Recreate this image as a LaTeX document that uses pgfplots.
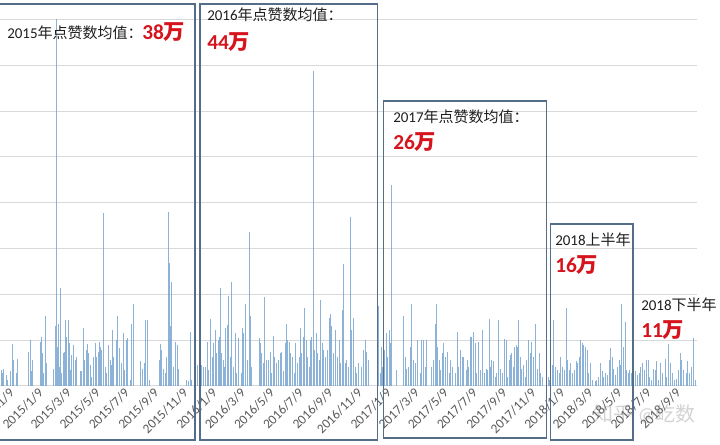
\documentclass[border=0pt]{standalone}
\usepackage{pgfplots}
\pgfplotsset{compat=1.18}
\usepackage{fontspec}
\setmainfont{Carlito}
\newfontfamily\cjk{Noto Sans CJK SC}
\definecolor{barblue}{RGB}{120,164,208}
\definecolor{gridgray}{RGB}{217,217,217}
\definecolor{boxblue}{RGB}{84,110,138}
\definecolor{numred}{RGB}{214,20,30}
\definecolor{txt}{RGB}{30,30,30}
\definecolor{ticktxt}{RGB}{89,89,89}
\begin{document}
\begin{tikzpicture}
\begin{axis}[
  at={(0pt,44.25pt)}, anchor=south west,
  scale only axis, width=522.75pt, height=289.5pt,
  xmin=-23, xmax=1441, ymin=0, ymax=421.4,
  axis x line=bottom, axis y line=left,
  axis line style={-},
  x axis line style={draw=gridgray, line width=0.75pt},
  y axis line style={draw=none},
  ytick={50,100,...,400}, yticklabels={},
  ymajorgrids, grid style={draw=gridgray, line width=0.75pt},
  major tick length=0pt,
  xtick={0,61,120,181,242,304,365,426,486,547,608,670,731,792,851,912,973,1035,1096,1157,1216,1277,1338,1400},
  xticklabels={2014/11/9,2015/1/9,2015/3/9,2015/5/9,2015/7/9,2015/9/9,2015/11/9,2016/1/9,2016/3/9,2016/5/9,2016/7/9,2016/9/9,2016/11/9,2017/1/9,2017/3/9,2017/5/9,2017/7/9,2017/9/9,2017/11/9,2018/1/9,2018/3/9,2018/5/9,2018/7/9,2018/9/9},
  xticklabel style={rotate=45, anchor=east, font=\fontsize{10}{12}\selectfont, text=ticktxt, inner sep=2pt, yshift=-3pt},
  clip=false,
]
\addplot[ycomb, line width=0.6pt, color=barblue, opacity=0.85] coordinates {
(-21,17)(-17,14)(-15,19)(-10,12)(-8,7)(-2,16)(2,21)(4,46)(6,28)(11,14)(13,29)
(37,37)(40,50)(42,16)(45,28)
(61,48)(64,54)(67,36)(69,14)(73,76)(75,25)
(89,19)(93,65)(95,401)(97,43)(100,68)(102,21)(104,107)(107,14)(110,36)(113,37)(115,72)(117,54)(121,72)(123,47)(125,17)(128,34)(131,45)(135,28)(138,32)
(145,16)(149,16)(152,63)(155,28)(158,39)(160,46)(163,36)(166,23)(170,10)(174,32)(177,47)(180,32)(183,37)(186,48)(188,43)(191,39)(194,189)(198,21)(201,14)(205,45)(208,28)(212,23)(214,61)(216,32)(221,50)(224,76)(227,41)
(233,25)(236,58)(239,17)(242,50)(244,52)(250,7)(254,68)(257,90)
(272,27)(277,19)(280,25)(283,72)(286,72)(291,7)
(312,28)(314,46)(317,39)(320,19)(324,14)(327,32)(331,190)(333,134)(334,65)(336,32)(338,114)(341,21)(345,48)(349,45)(352,19)
(369,7)(373,5)(376,59)(380,7)
(391,23)(396,14)(401,23)(404,21)(408,21)(412,48)(415,17)(419,73)(423,32)(426,47)(429,61)(432,36)(435,50)(438,54)(440,107)(443,36)(446,28)(448,21)(451,63)(454,67)(457,98)(460,32)(464,114)(467,21)(471,58)(474,14)(478,52)
(483,14)(487,63)(489,58)(493,90)(496,28)(500,168)(502,76)(506,21)
(522,52)(524,47)(527,36)(530,25)(533,97)(536,28)(541,28)(544,37)(548,14)(551,55)(554,32)(557,25)(561,28)(565,36)(569,37)(572,16)(576,47)(578,68)(581,50)(584,48)(587,36)(592,32)(595,14)(598,47)(601,25)(605,32)(608,63)(611,36)(614,54)(616,85)(620,50)(622,32)(626,21)(629,50)(632,54)(635,344)(638,39)(641,58)(644,36)(648,28)(651,94)(654,47)(657,39)(661,32)(664,39)(669,74)(671,79)(674,65)(678,36)(682,61)(685,32)(689,50)(692,25)(696,83)(698,133)(702,25)(705,28)(709,21)(713,184)(716,61)(719,74)(723,21)(726,14)(730,25)
(737,21)(740,39)(744,50)(747,37)(751,28)
(772,87)(775,14)(779,43)(781,21)(784,39)(788,58)(791,32)(795,61)(797,47)(800,219)(810,17)
(824,76)(828,32)(831,19)(835,21)(838,43)(842,90)(845,28)(849,25)(853,50)(859,14)(863,50)(866,50)(870,21)(873,50)
(884,21)(887,28)(891,68)(893,90)(895,43)(900,28)(903,17)(907,36)(909,47)(912,32)(916,37)(920,14)(923,28)(928,21)(933,14)(937,59)(940,21)(944,39)(949,32)(951,32)(956,17)(958,28)(961,21)(964,54)(967,54)(971,59)(975,47)(978,14)(982,48)
(987,17)(991,61)(994,14)(998,19)(1000,17)(1004,73)(1007,21)(1010,28)(1013,27)(1017,10)(1020,14)(1024,72)(1028,19)(1032,14)(1036,51)(1040,50)(1043,10)(1047,28)(1049,34)(1052,36)(1055,21)(1058,43)(1061,45)(1063,43)(1066,72)(1069,32)(1073,19)(1076,23)(1080,10)(1083,28)(1087,50)(1090,36)(1094,48)(1097,32)(1101,68)(1105,19)(1110,36)(1113,14)(1117,10)
(1124,7)(1129,10)(1132,7)(1138,23)(1140,72)(1144,21)(1147,17)(1152,14)(1155,32)(1159,21)(1162,17)(1166,85)(1169,28)(1173,17)(1175,25)(1180,14)(1183,17)(1187,27)(1190,25)(1194,32)(1197,50)(1200,47)(1203,45)(1207,43)(1210,39)(1213,14)(1217,25)(1222,7)(1227,5)(1230,7)(1234,10)
(1239,25)(1243,16)(1245,10)(1249,14)(1252,12)(1256,28)(1259,41)(1263,32)(1266,19)(1270,12)(1273,21)(1277,28)(1280,23)(1283,90)(1286,43)(1290,70)(1293,17)(1297,14)(1300,17)(1304,14)
(1308,8)(1312,16)(1315,12)(1319,14)(1322,21)(1326,25)(1330,17)(1335,28)(1339,28)(1342,10)(1346,7)(1349,19)(1353,17)(1356,27)(1360,7)(1364,25)(1369,14)(1374,30)(1377,10)(1381,46)(1385,25)(1390,14)(1394,7)(1398,8)(1402,17)(1406,36)(1409,28)(1413,17)(1418,14)(1421,27)(1426,14)(1430,21)(1433,52)(1437,7)
};
\end{axis}
\begin{scope}[x=0.75pt, y=-0.75pt, shift={(0pt,333.75pt)}]
  \draw[boxblue, line width=1.1pt] (-5,4) rectangle (195,440);
  \draw[boxblue, line width=1.1pt] (200,4) rectangle (377.6,440);
  \draw[boxblue, line width=1.1pt] (383.6,101) rectangle (546.7,438);
  \draw[boxblue, line width=1.1pt] (550.7,224) rectangle (633,440);
  \tikzset{lab/.style={anchor=west, inner sep=0pt, text=txt, font=\fontsize{11.25}{13}\selectfont},
           num/.style={anchor=west, inner sep=0pt, text=numred, font=\fontsize{16}{18}\selectfont\bfseries}}
  \node[lab] at (7,33) {2015{\cjk 年点赞数均值：}};
  \node[num] at (142,32) {38{\cjk\bfseries 万}};
  \node[lab] at (207,15) {2016{\cjk 年点赞数均值：}};
  \node[num] at (207,42) {44{\cjk\bfseries 万}};
  \node[lab] at (393,117) {2017{\cjk 年点赞数均值：}};
  \node[num] at (393,142) {26{\cjk\bfseries 万}};
  \node[lab] at (555,240) {2018{\cjk 上半年}};
  \node[num] at (555,265) {16{\cjk\bfseries 万}};
  \node[lab] at (641,305) {2018{\cjk 下半年}};
  \node[num] at (641,330) {11{\cjk\bfseries 万}};
  \node[anchor=west, inner sep=0pt, text=gray, opacity=0.35, font=\fontsize{15}{17}\selectfont] at (593,414) {{\cjk 知乎} @{\cjk 屹数}};
\end{scope}
\pgfresetboundingbox
\path (0pt,0pt) rectangle (540pt,333.75pt);
\end{tikzpicture}
\end{document}
